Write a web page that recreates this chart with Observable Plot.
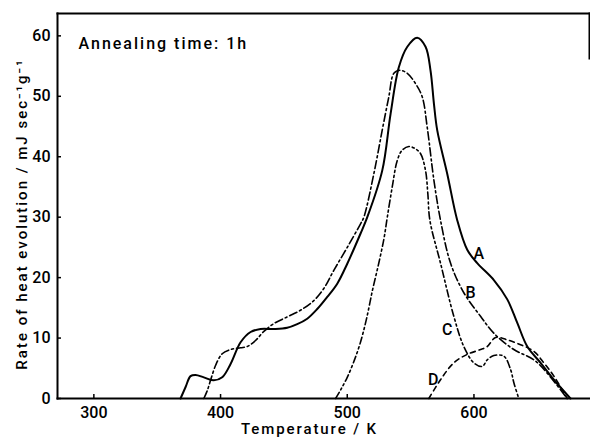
<!DOCTYPE html>
<html>
<head>
<meta charset="utf-8">
<script src="https://cdn.jsdelivr.net/npm/d3@7"></script>
<script src="https://cdn.jsdelivr.net/npm/@observablehq/plot@0.6"></script>
<style>
  html, body { margin: 0; padding: 0; background: white; }
  #chart { width: 590px; height: 438px; }
</style>
</head>
<body>
<div id="chart"></div>
<script>
// Curve A (solid)
const aTemp = [368.4,372.4,376.3,380.3,386.8,394.7,401.3,407.9,415.8,423.7,431.6,442.1,452.6,460.5,468.4,476.3,484.2,492.1,500,510.5,515.8,527.6,534.2,540.7,547.4,555.2,561.8,565.7,568.4,571,578.9,586.8,594.7,602.6,615.7,626.3,634.2,642.1,652.6,663.1,676.2];
const aRate = [0,1.9,3.7,3.9,3.5,3.0,3.5,5.7,9.3,11.0,11.5,11.5,11.7,12.3,13.2,14.8,16.8,19.0,22.3,27.3,30.0,37.7,47.1,54.8,58.2,59.7,58.2,54.3,48.8,44.4,37.2,29.5,24.6,22.4,19.6,16.4,12.5,8.6,5.9,3.1,0];
// Curve B (dash-dot)
const bTemp = [386.8,389.5,392.1,396.1,401.3,407.9,415.8,421.1,427.6,434.2,442.1,452.6,463.1,473.6,481.5,489.4,500,510.5,513.1,521,527.6,532.8,536.8,541.5,547.4,553.9,559.2,563.1,568.4,573.6,581.5,592,605.2,615.7,631.5,647.3,657.8,673.6];
const bRate = [0,1.3,3.0,5.5,7.4,8.1,8.4,8.6,9.6,11.1,12.4,13.5,14.6,16.2,18.2,21.2,25.0,28.9,30.0,37.2,44.4,49.9,53.8,54.3,53.8,52.1,49.9,44.9,36.1,29.5,22.4,17.5,13.6,10.8,8.1,6.4,4.2,0];
// Curve C (dash-dot-dot)
const cTemp = [490.8,495,500,505,510,515,520,525,529,531.6,535.5,539.5,543.4,548.6,553.9,557.9,561.8,563.6,565.2,573.6,584.1,592,599.9,606.5,610.5,615.7,623.6,628.9,631.5,635.4];
const cRate = [0,1.5,3.5,6,9,13,18,22.5,26.5,30,35,39.4,41.1,41.7,41.3,40.5,37.7,33.9,29.5,22.4,13.6,8.6,5.9,5.3,6.4,7.1,7.0,4.8,2.6,0];
// Curve D (dashed)
const dTemp = [564.4,573.6,584.1,594.7,605.2,610.5,617.1,626.3,636.8,647.3,655.2,663.1,673.6];
const dRate = [0,3.1,5.9,7.3,8.1,8.6,10.1,9.7,8.9,7.8,5.9,3.7,0];

// Curve labels
const labelNames = ["A","B","C","D"];
const labelTemp = [603.9,597.3,578.9,567.9];
const labelRate = [24.0,17.4,11.4,3.1];

const xTicks = [300,400,500,600];
const yTicks = [0,10,20,30,40,50,60];

const xTitle = "Temperature / K";
const yTitle = "Rate of heat evolution / mJ sec\u207B\u00B9g\u207B\u00B9";
const note = "Annealing time: 1h";

const toRows = (t, r) => t.map((x, i) => ({temp: x, rate: r[i]}));
const A = toRows(aTemp, aRate), B = toRows(bTemp, bRate), C = toRows(cTemp, cRate), D = toRows(dTemp, dRate);
const labels = labelNames.map((n, i) => ({name: n, temp: labelTemp[i], rate: labelRate[i]}));

const font = "Roboto, 'DejaVu Sans', sans-serif";

const chart = Plot.plot({
  width: 590,
  height: 438,
  marginLeft: 57,
  marginRight: 1,
  marginTop: 13,
  marginBottom: 40,
  style: {fontFamily: font, background: "white", color: "black"},
  x: {domain: [271.3, 691.2]},
  y: {domain: [0, 63.7]},
  marks: [
    Plot.frame({anchor: "left", strokeWidth: 2}),
    Plot.frame({anchor: "bottom", strokeWidth: 2}),
    Plot.frame({anchor: "top", strokeWidth: 2}),
    Plot.frame({anchor: "right", strokeWidth: 2, insetBottom: 340}),
    Plot.axisX({ticks: xTicks, tickSize: -4, tickPadding: 12, strokeWidth: 1.5, label: null, fontSize: 16, fontWeight: 500}),
    Plot.axisY({ticks: yTicks, tickSize: -4, tickPadding: 11, strokeWidth: 1.5, label: null, fontSize: 16, fontWeight: 500}),
    Plot.line(A, {x: "temp", y: "rate", curve: "catmull-rom", stroke: "black", strokeWidth: 2}),
    Plot.line(B, {x: "temp", y: "rate", curve: "catmull-rom", stroke: "black", strokeWidth: 1.6, strokeDasharray: "8,3,2,3"}),
    Plot.line(C, {x: "temp", y: "rate", curve: "catmull-rom", stroke: "black", strokeWidth: 1.6, strokeDasharray: "7,3,2,3,2,3"}),
    Plot.line(D, {x: "temp", y: "rate", curve: "catmull-rom", stroke: "black", strokeWidth: 1.6, strokeDasharray: "5,4"}),
    Plot.text(labels, {x: "temp", y: "rate", text: "name", fontSize: 16, fontWeight: 500, fill: "black"}),
    Plot.text([note], {frameAnchor: "top-left", textAnchor: "start", lineAnchor: "middle", dx: 21, dy: 30, fontSize: 16, fontWeight: 500, fill: "black"}),
    Plot.text([xTitle], {frameAnchor: "bottom", textAnchor: "middle", lineAnchor: "middle", dy: 31, dx: -14, fontSize: 15, fontWeight: 500, fill: "black"}),
    Plot.text([yTitle], {frameAnchor: "left", textAnchor: "middle", rotate: -90, lineAnchor: "middle", dx: -35, dy: 8, fontSize: 15, fontWeight: 500, fill: "black"})
  ]
});
// widen letter spacing of the three titles to match the reference's spaced lettering
const spacing = new Map([[note, "2px"], [xTitle, "1.9px"], [yTitle, "2px"]]);
d3.select(chart).selectAll("text").each(function () {
  const s = spacing.get(this.textContent);
  if (s) this.setAttribute("letter-spacing", s);
});
document.getElementById("chart").appendChild(chart);
</script>
</body>
</html>
